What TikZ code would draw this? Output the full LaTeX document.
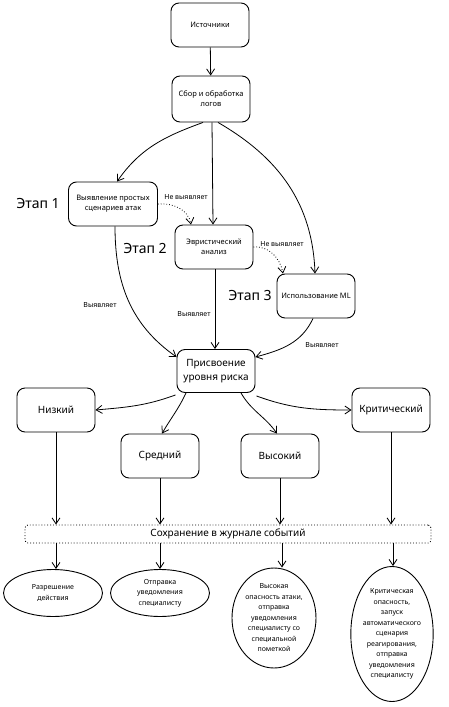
\documentclass[tikz,border=0pt]{standalone}
\usepackage{fontspec}
\setmainfont{Noto Sans}
\usetikzlibrary{arrows.meta,shapes.geometric}
\begin{document}
\begin{tikzpicture}[x=1pt,y=-1pt,
  box/.style={draw,line width=0.9pt,rounded corners=8pt,align=center,inner sep=1pt,
    minimum width=78pt,minimum height=44pt,font=\fontsize{7.5}{10}\selectfont},
  bigbox/.style={box,font=\fontsize{10}{14}\selectfont},
  oval/.style={draw,line width=0.9pt,ellipse,align=center,inner sep=0pt,
    font=\fontsize{7}{10.5}\selectfont},
  stage/.style={font=\fontsize{14}{16}\selectfont},
  lbl/.style={font=\fontsize{7}{9}\selectfont,inner sep=1pt},
  arr/.style={draw,line width=0.8pt,-{Straight Barb[length=6pt,width=8pt]}},
  darr/.style={arr,dotted}]
\useasboundingbox (0,0) rectangle (449,707);
\node[box] (src) at (210,25) {Источники};
\node[box,minimum height=46pt] (sbor) at (211,99) {Сбор и обработка\\логов};
\node[box,minimum width=89pt] (vyy) at (113,204) {Выявление простых\\сценариев атак};
\node[stage] (e1) at (38,203) {Этап 1};
\node[box] (evr) at (214,247) {Эвристический\\анализ};
\node[stage] (e2) at (145,248) {Этап 2};
\node[box] (ml) at (316,296) {Использование ML};
\node[stage] (e3) at (250,295) {Этап 3};
\node[bigbox,minimum height=43pt] (pri) at (216,371) {Присвоение\\уровня риска};
\node[bigbox] (niz) at (56,410) {Низкий};
\node[bigbox] (sre) at (160,456) {Средний};
\node[bigbox] (vys) at (280,456) {Высокий};
\node[bigbox] (kri) at (391,410) {Критический};
\node[draw,dotted,line width=0.9pt,rounded corners=3pt,minimum width=406pt,minimum height=18pt,
  inner sep=0pt,font=\fontsize{10}{12}\selectfont] (zhu) at (228,534) {Сохранение в журнале событий};
\node[oval,minimum width=99pt,minimum height=47pt] (o1) at (53,593) {Разрешение\\действия};
\node[oval,minimum width=99pt,minimum height=47pt] (o2) at (160,593) {Отправка\\уведомления\\специалисту};
\node[oval,minimum width=84pt,minimum height=100pt] (o3) at (274,618) {Высокая\\опасность атаки,\\отправка\\уведомления\\специалисту со\\специальной\\пометкой};
\node[oval,minimum width=76pt,minimum height=135pt] (o4) at (392,634) {Критическая\\опасность,\\запуск\\автоматического\\сценария\\реагирования,\\отправка\\уведомления\\специалисту};

\draw[arr] (src) -- (sbor);
\draw[arr] ([xshift=-8pt]sbor.south) to[out=-160,in=55] ([xshift=4pt]vyy.north);
\draw[arr] ([xshift=1pt]sbor.south) -- ([xshift=-1pt]evr.north);
\draw[arr] ([xshift=7pt]sbor.south) to[out=-30,in=92] ([xshift=-1pt]ml.north);
\draw[darr] (vyy.east) to[out=5,in=100] ([xshift=-23pt]evr.north);
\node[lbl] (l1) at (186,197) {Не выявляет};
\draw[darr] (evr.east) to[out=5,in=100] ([xshift=-33pt]ml.north);
\node[lbl] (l2) at (282,244) {Не выявляет};
\draw[arr] ([xshift=2pt]vyy.south) to[out=-90,in=145] ([yshift=14pt]pri.west);
\node[lbl] (l3) at (100,305) {Выявляет};
\draw[arr] ([xshift=1pt]evr.south) -- ([xshift=-1pt]pri.north);
\node[lbl] (l4) at (194,314) {Выявляет};
\draw[arr] ([xshift=-3pt]ml.south) to[out=-115,in=15] ([yshift=14pt]pri.east);
\node[lbl] (l5) at (322,345) {Выявляет};
\draw[arr] ([xshift=-1pt,yshift=-2pt]pri.south west) to[out=-160,in=5] (niz.east);
\draw[arr] ([xshift=-30pt]pri.south) to[out=-115,in=60] ([xshift=2pt]sre.north);
\draw[arr] ([xshift=25pt]pri.south) to[out=-60,in=125] ([xshift=-3pt]vys.north);
\draw[arr] ([xshift=1pt,yshift=-3pt]pri.south east) to[out=-20,in=180] (kri.west);
\draw[arr] (niz.south) -- (niz.south |- zhu.north);
\draw[arr] (sre.south) -- (sre.south |- zhu.north);
\draw[arr] (vys.south) -- (vys.south |- zhu.north);
\draw[arr] (kri.south) -- (kri.south |- zhu.north);
\draw[arr] (niz.south |- zhu.south) -- ([xshift=3pt]o1.north);
\draw[arr] (sre.south |- zhu.south) -- (o2.north);
\draw[arr] ([xshift=2pt]vys.south |- zhu.south) -- ([xshift=8pt]o3.north);
\draw[arr] ([xshift=2pt]kri.south |- zhu.south) -- ([xshift=1pt]o4.north);
\end{tikzpicture}
\end{document}
